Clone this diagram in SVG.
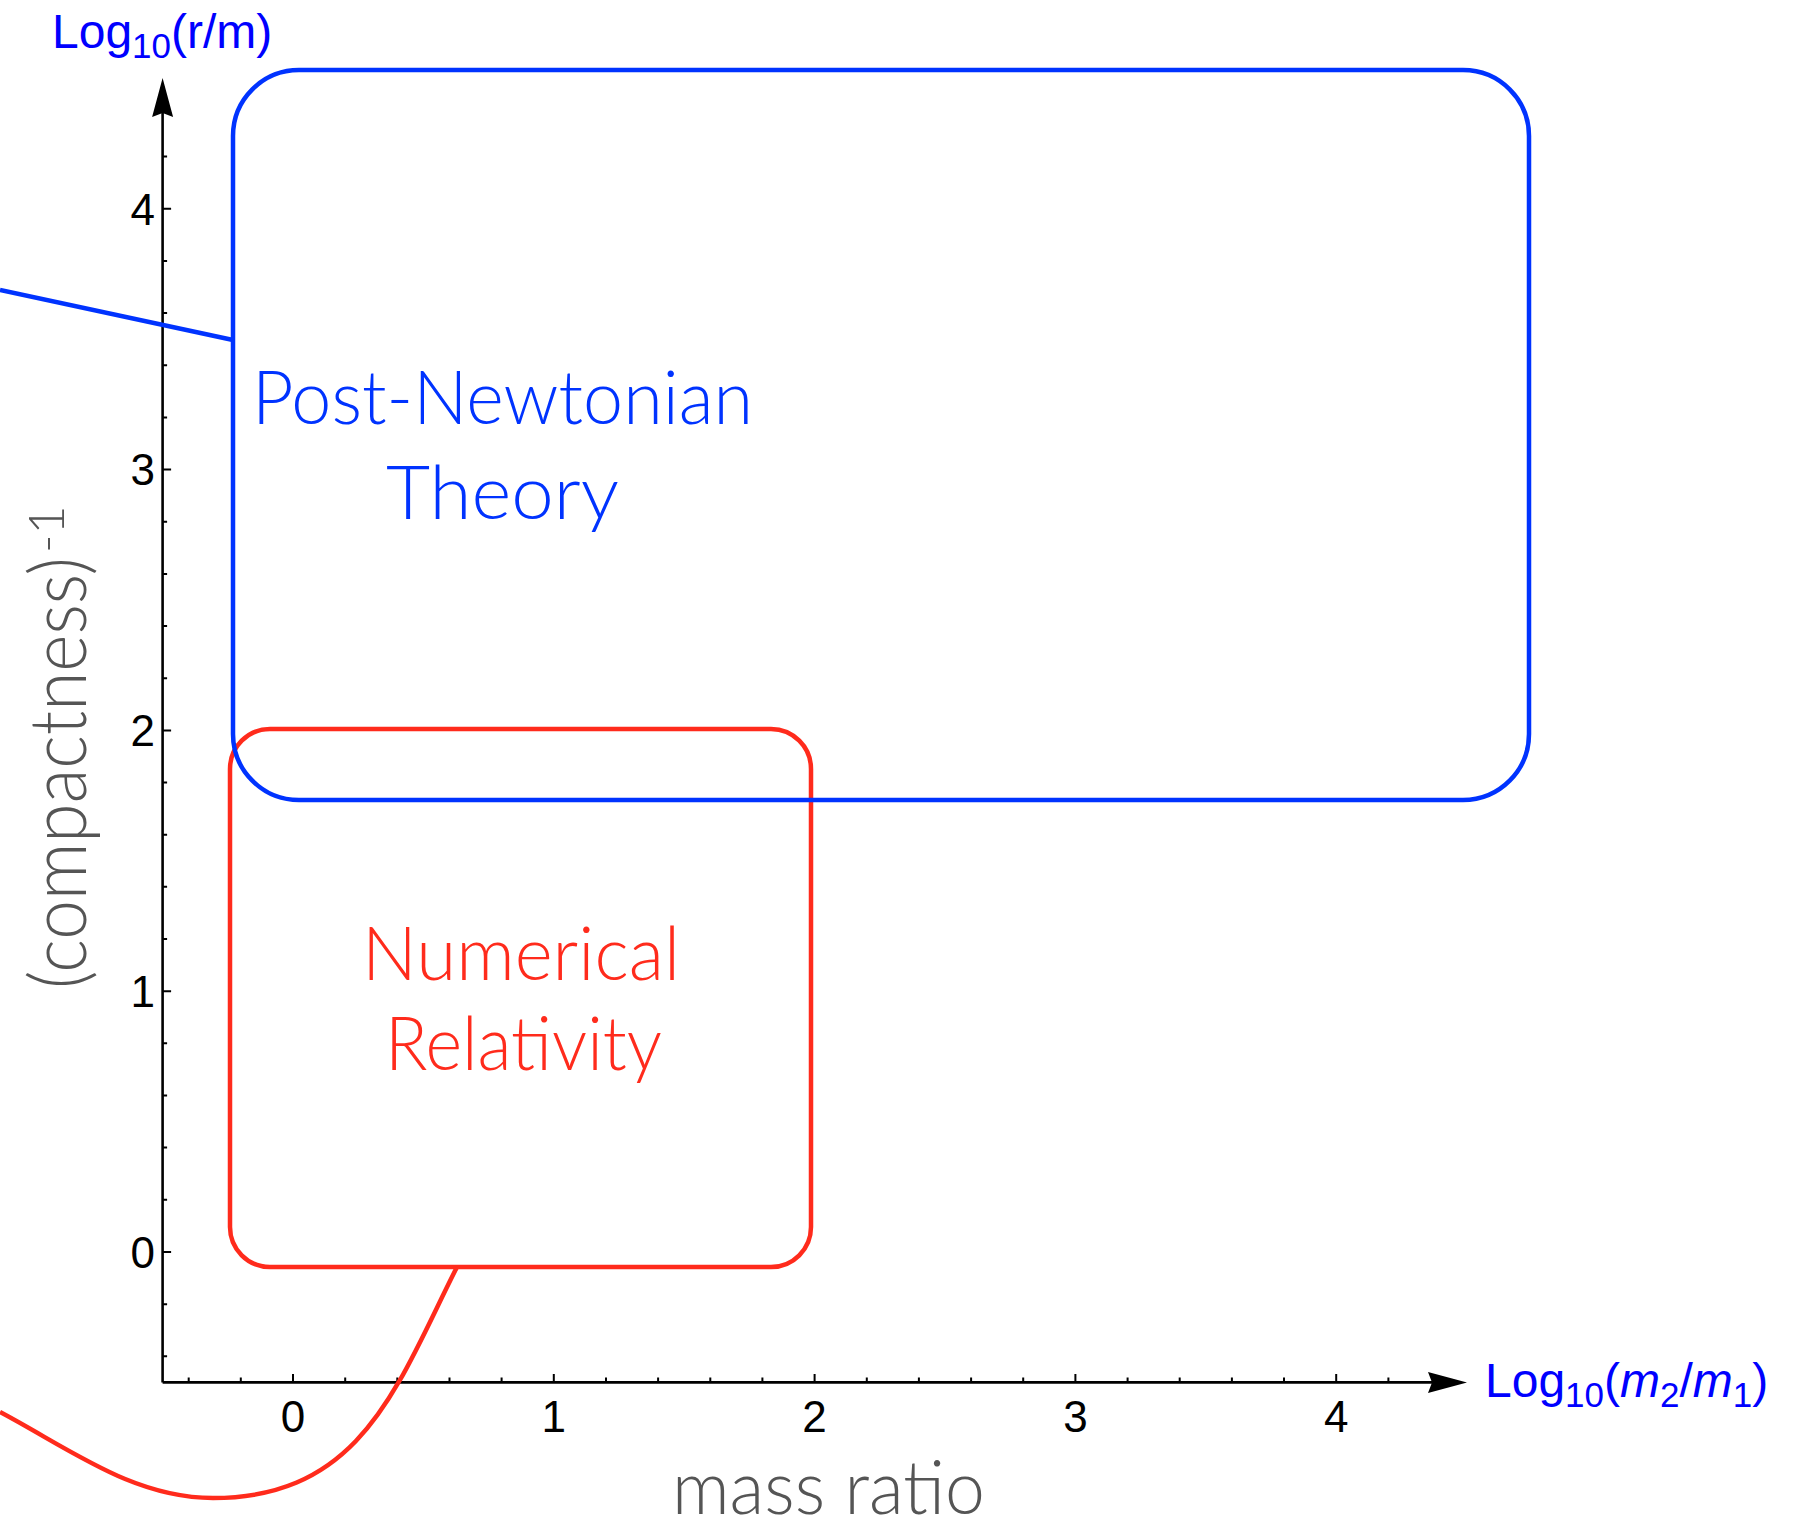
<svg xmlns="http://www.w3.org/2000/svg" width="1809" height="1523" viewBox="0 0 1809 1523">
  <defs>
    <marker id="arrow" viewBox="0 -11 40 22" refX="4" refY="0" markerWidth="40" markerHeight="22" markerUnits="userSpaceOnUse" orient="auto">
      <path d="M39,0 L0,-10.5 L4,0 L0,10.5 Z" fill="#000"/>
    </marker>
  </defs>
  <style>
    .axis { stroke: #000; stroke-width: 2.6; fill: none; }
    .tick { stroke: #000; stroke-width: 2; fill: none; }
    .ticklabel { font-family: "Liberation Sans", Arial, sans-serif; font-size: 44px; fill: #000; }
    .axislabel { font-family: "Liberation Sans", Arial, sans-serif; font-size: 48px; fill: #0000FF; }
    .sub { font-size: 35px; }
    .big { font-family: Lato, "Open Sans", sans-serif; font-weight: 300; font-size: 75px; }
    .grey { fill: #555555; }
    .blue { fill: #0033FF; }
    .red { fill: #FF2B1C; }
    .blueStroke { stroke: #0033FF; stroke-width: 4.5; fill: none; }
    .redStroke { stroke: #FF2B1C; stroke-width: 4.5; fill: none; }
  </style>
  <rect width="1809" height="1523" fill="#fff"/>

  <g id="axes">
    <line class="axis" x1="162.6" y1="1382.4" x2="162.6" y2="113" marker-end="url(#arrow)"/>
    <line class="axis" x1="162.6" y1="1382.4" x2="1432" y2="1382.4" marker-end="url(#arrow)"/>
    <g id="y-ticks">
      <path class="tick" d="M162.6,1356.3h4.5 M162.6,1304.2h4.5 M162.6,1252h8.5 M162.6,1199.8h4.5 M162.6,1147.6h4.5 M162.6,1095.5h4.5 M162.6,1043.3h4.5 M162.6,991.2h8.5 M162.6,939h4.5 M162.6,886.8h4.5 M162.6,834.7h4.5 M162.6,782.5h4.5 M162.6,730.4h8.5 M162.6,678.2h4.5 M162.6,626h4.5 M162.6,573.9h4.5 M162.6,521.7h4.5 M162.6,469.6h8.5 M162.6,417.4h4.5 M162.6,365.2h4.5 M162.6,313.1h4.5 M162.6,260.9h4.5 M162.6,208.8h8.5 M162.6,156.6h4.5"/>
    </g>
    <g id="x-ticks">
      <path class="tick" d="M188.7,1382.4v-5 M240.8,1382.4v-5 M293,1382.4v-8.5 M345.2,1382.4v-5 M397.3,1382.4v-5 M449.5,1382.4v-5 M501.6,1382.4v-5 M553.8,1382.4v-8.5 M606,1382.4v-5 M658.1,1382.4v-5 M710.3,1382.4v-5 M762.4,1382.4v-5 M814.6,1382.4v-8.5 M866.8,1382.4v-5 M918.9,1382.4v-5 M971.1,1382.4v-5 M1023.2,1382.4v-5 M1075.4,1382.4v-8.5 M1127.6,1382.4v-5 M1179.7,1382.4v-5 M1231.9,1382.4v-5 M1284,1382.4v-5 M1336.2,1382.4v-8.5 M1388.4,1382.4v-5"/>
    </g>
    <g id="y-ticklabels" text-anchor="end">
      <text class="ticklabel" x="155" y="1268">0</text>
      <text class="ticklabel" x="155" y="1007">1</text>
      <text class="ticklabel" x="155" y="746">2</text>
      <text class="ticklabel" x="155" y="485">3</text>
      <text class="ticklabel" x="155" y="225">4</text>
    </g>
    <g id="x-ticklabels" text-anchor="middle">
      <text class="ticklabel" x="293" y="1432">0</text>
      <text class="ticklabel" x="553.8" y="1432">1</text>
      <text class="ticklabel" x="814.6" y="1432">2</text>
      <text class="ticklabel" x="1075.4" y="1432">3</text>
      <text class="ticklabel" x="1336.2" y="1432">4</text>
    </g>
    <text id="y-axis-label" class="axislabel" x="52" y="48">Log<tspan class="sub" dy="10">10</tspan><tspan dy="-10">(r/m)</tspan></text>
    <text id="x-axis-label" class="axislabel" x="1485" y="1397">Log<tspan class="sub" dy="10">10</tspan><tspan dy="-10">(</tspan><tspan font-style="italic">m</tspan><tspan class="sub" dy="10">2</tspan><tspan dy="-10">/</tspan><tspan font-style="italic">m</tspan><tspan class="sub" dy="10">1</tspan><tspan dy="-10">)</tspan></text>
    <text id="mass-ratio" class="big grey" x="672" y="1514" textLength="313" lengthAdjust="spacingAndGlyphs">mass ratio</text>
    <g id="compactness" transform="translate(86,989) rotate(-90)">
      <text class="big grey" x="0" y="0" textLength="432" lengthAdjust="spacingAndGlyphs" style="font-size:79px">(compactness)</text>
      <text class="big grey" x="436" y="-22" style="font-size:50px">-1</text>
    </g>
  </g>

  <g id="connectors">
    <path class="blueStroke" d="M0,290 L233,340"/>
    <path class="redStroke" d="M0,1412 C70,1449 133,1498 213,1498 C363,1498 398,1383 457,1267"/>
  </g>

  <g id="numerical-relativity">
    <rect class="redStroke" x="230" y="729" width="581" height="538" rx="40" ry="40"/>
    <text class="big red" x="362" y="980" textLength="318" lengthAdjust="spacingAndGlyphs">Numerical</text>
    <text class="big red" x="385" y="1070" textLength="277" lengthAdjust="spacingAndGlyphs">Relativity</text>
  </g>

  <g id="post-newtonian">
    <rect class="blueStroke" x="233" y="70" width="1296" height="730" rx="66" ry="66"/>
    <text class="big blue" x="252" y="424" textLength="501" lengthAdjust="spacingAndGlyphs">Post-Newtonian</text>
    <text class="big blue" x="386" y="519" textLength="233" lengthAdjust="spacingAndGlyphs">Theory</text>
  </g>
</svg>
